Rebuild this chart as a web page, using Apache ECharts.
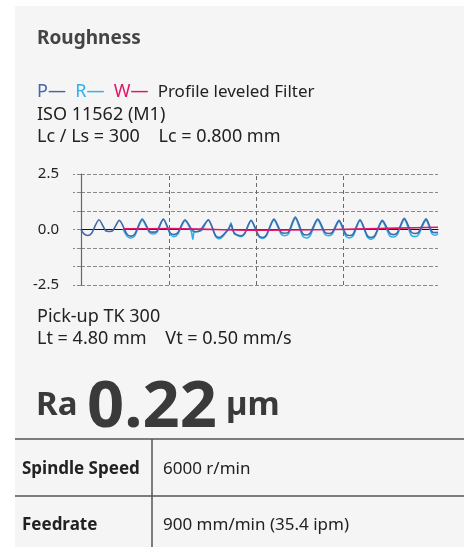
<!DOCTYPE html>
<html>
<head>
<meta charset="utf-8">
<script src="https://cdn.jsdelivr.net/npm/echarts@6/dist/echarts.min.js"></script>
<style>
  html, body { margin: 0; padding: 0; background: #ffffff; }
  #panel { position: absolute; left: 15px; top: 6px; width: 449px; height: 541px; background: #f5f5f5; }
  #chart { position: absolute; left: 0; top: 0; width: 464px; height: 547px; }
</style>
</head>
<body>
<div id="panel"></div>
<div id="chart"></div>
<script>
// ---- data (mm along trace, µm height) ----
const profileP = [
  [0.00, 0.00], [0.04, -0.20], [0.09, -0.27], [0.14, -0.18], [0.242, 0.44],
  [0.33, -0.05], [0.38, -0.09], [0.43, -0.04], [0.515, 0.41],
  [0.62, -0.22], [0.67, -0.30], [0.72, -0.22], [0.824, 0.47],
  [0.92, -0.08], [0.97, -0.12], [1.02, -0.08], [1.107, 0.47],
  [1.20, -0.15], [1.25, -0.23], [1.30, -0.15], [1.398, 0.44],
  [1.50, -0.05], [1.55, -0.10], [1.60, -0.05], [1.712, 0.42],
  [1.81, -0.28], [1.86, -0.36], [1.91, -0.25], [1.97, -0.05], [2.017, 0.22], [2.06, -0.18],
  [2.10, -0.25], [2.15, -0.28], [2.20, -0.18], [2.286, 0.42],
  [2.39, -0.28], [2.44, -0.36], [2.49, -0.26], [2.595, 0.47],
  [2.69, -0.12], [2.74, -0.17], [2.79, -0.12], [2.881, 0.56],
  [2.98, -0.18], [3.03, -0.25], [3.08, -0.17], [3.183, 0.47],
  [3.28, -0.12], [3.33, -0.18], [3.38, -0.12], [3.469, 0.41],
  [3.56, -0.20], [3.61, -0.27], [3.66, -0.20], [3.751, 0.44],
  [3.85, -0.28], [3.90, -0.36], [3.95, -0.27], [4.051, 0.41],
  [4.15, -0.16], [4.20, -0.23], [4.25, -0.16], [4.347, 0.50],
  [4.44, -0.12], [4.49, -0.18], [4.54, -0.12], [4.639, 0.48],
  [4.72, -0.10], [4.77, -0.14], [4.80, -0.12]
];
const profileR = [
  [0.565, 0.02], [0.62, -0.30], [0.67, -0.38], [0.72, -0.30], [0.824, 0.42],
  [0.92, -0.14], [0.97, -0.20], [1.02, -0.13], [1.107, 0.45],
  [1.20, -0.22], [1.25, -0.32], [1.30, -0.22], [1.398, 0.38],
  [1.48, -0.06], [1.505, -0.45], [1.52, -0.12], [1.58, -0.08], [1.62, -0.05], [1.712, 0.45],
  [1.81, -0.32], [1.86, -0.42], [1.91, -0.30], [1.96, -0.05], [1.99, 0.02], [2.017, 0.30],
  [2.04, -0.05], [2.10, -0.26], [2.15, -0.32], [2.20, -0.20], [2.286, 0.40],
  [2.39, -0.32], [2.44, -0.40], [2.49, -0.30], [2.595, 0.42],
  [2.69, -0.20], [2.74, -0.28], [2.79, -0.20], [2.881, 0.50],
  [2.98, -0.30], [3.03, -0.38], [3.08, -0.28], [3.183, 0.42],
  [3.28, -0.22], [3.33, -0.28], [3.38, -0.20], [3.469, 0.36],
  [3.56, -0.30], [3.61, -0.38], [3.66, -0.28], [3.751, 0.40],
  [3.85, -0.34], [3.90, -0.44], [3.95, -0.32], [4.051, 0.36],
  [4.15, -0.28], [4.20, -0.34], [4.25, -0.24], [4.347, 0.45],
  [4.44, -0.26], [4.49, -0.32], [4.54, -0.22], [4.639, 0.42],
  [4.72, -0.20], [4.77, -0.26], [4.80, -0.18]
];
const profileW = [
  [0.565, 0.03], [1.20, 0.04], [1.80, 0.00], [2.30, -0.03], [2.80, -0.02],
  [3.40, 0.00], [4.00, 0.04], [4.50, 0.08], [4.80, 0.10]
];
const yTickLabels = ['2.5', '0.0', '-2.5'];
const xMin = 0, xMax = 4.8;
const yMin = -2.5, yMax = 2.5;
const vGridX = [1.18, 2.35, 3.53];

const legendItems = [
  { key: 'P', color: '#4368a8' },
  { key: 'R', color: '#2cb3ea' },
  { key: 'W', color: '#e3136a' }
];
const headerTitle = 'Roughness';
const infoLines1 = ['ISO 11562 (M1)', 'Lc / Ls = 300    Lc = 0.800 mm'];
const infoLines2 = ['Pick-up TK 300', 'Lt = 4.80 mm    Vt = 0.50 mm/s'];
const raLabel = 'Ra', raValue = '0.22', raUnit = 'µm';
const tableRows = [
  ['Spindle Speed', '6000 r/min'],
  ['Feedrate', '900 mm/min (35.4 ipm)']
];

// ---- chart ----
const FONT = 'Noto Sans';
const TXT = '#222222';
const BIG = '#3a3a3a';
const chart = echarts.init(document.getElementById('chart'), null, { renderer: 'canvas' });

const legendRich = {};
let legendText = '';
legendItems.forEach((it, i) => {
  legendRich['c' + i] = { fill: it.color, fontSize: 18, fontFamily: FONT };
  legendText += '{c' + i + '|' + it.key + '— }' + (i < legendItems.length - 1 ? '{sp| }' : '');
});
legendRich.sp = { fontSize: 18, fontFamily: FONT };
legendRich.t = { fill: TXT, fontSize: 17, fontFamily: FONT };
legendText += '{t| Profile leveled Filter}';

function txt(x, y, text, font, fill) {
  return { type: 'text', x: x, y: y, style: { text: text, font: font, fill: fill, verticalAlign: 'middle' } };
}

const graphics = [
  txt(37, 39, headerTitle, 'bold 19px ' + FONT, '#444444'),
  { type: 'text', x: 37, y: 92, style: { text: legendText, rich: legendRich, verticalAlign: 'middle' } },
  txt(37, 115, infoLines1[0], '18px ' + FONT, TXT),
  txt(37, 137, infoLines1[1], '18px ' + FONT, TXT),
  txt(37, 317, infoLines2[0], '18px ' + FONT, TXT),
  txt(37, 339, infoLines2[1], '18px ' + FONT, TXT),
  txt(36, 406, raLabel, 'bold 33px ' + FONT, BIG),
  txt(87, 408, raValue, 'bold 65px ' + FONT, BIG),
  txt(226, 406, raUnit, 'bold 33px ' + FONT, BIG),
  { type: 'line', shape: { x1: 15, y1: 439, x2: 464, y2: 439 }, style: { stroke: '#555555', lineWidth: 1.5 } },
  { type: 'line', shape: { x1: 15, y1: 496, x2: 464, y2: 496 }, style: { stroke: '#555555', lineWidth: 1.5 } },
  { type: 'line', shape: { x1: 152, y1: 439, x2: 152, y2: 547 }, style: { stroke: '#555555', lineWidth: 1.5 } }
];
tableRows.forEach((row, i) => {
  const cy = 469 + i * 56;
  graphics.push(txt(22, cy, row[0], 'bold 17px ' + FONT, '#222222'));
  graphics.push(txt(163, cy, row[1], '17px ' + FONT, TXT));
});

const option = {
  backgroundColor: 'transparent',
  animation: false,
  grid: { left: 81, right: 26, top: 174, bottom: 262 },
  xAxis: {
    type: 'value', min: xMin, max: xMax,
    axisLine: { show: true, onZero: true, lineStyle: { color: '#111111', width: 1.2 } },
    axisTick: { show: false }, axisLabel: { show: false }, splitLine: { show: false }
  },
  yAxis: {
    type: 'value', min: yMin, max: yMax, interval: (yMax - yMin) / 6,
    axisLine: { show: true, lineStyle: { color: '#666666', width: 1.2 } },
    axisTick: { show: true, length: 8, lineStyle: { color: '#888888', type: [4, 2] } },
    axisLabel: {
      margin: 22, color: TXT, fontSize: 15, fontFamily: FONT,
      formatter: function (v) {
        if (Math.abs(v - yMax) < 1e-6) return yTickLabels[0];
        if (Math.abs(v) < 1e-6) return yTickLabels[1];
        if (Math.abs(v - yMin) < 1e-6) return yTickLabels[2];
        return '';
      }
    },
    splitLine: { show: true, lineStyle: { color: '#8a8a8a', type: [4, 2], width: 1 } }
  },
  series: [
    {
      name: 'R', type: 'line', data: profileR, showSymbol: false, smooth: 0.25,
      lineStyle: { color: legendItems[1].color, width: 1.6 }, z: 2
    },
    {
      name: 'P', type: 'line', data: profileP, showSymbol: false, smooth: 0.25,
      lineStyle: { color: legendItems[0].color, width: 1.6 }, z: 3,
      markLine: {
        silent: true, symbol: 'none', label: { show: false },
        lineStyle: { color: '#6a6a6a', type: [4, 3], width: 1 },
        data: vGridX.map(x => ({ xAxis: x }))
      }
    },
    {
      name: 'W', type: 'line', data: profileW, showSymbol: false, smooth: 0.3,
      lineStyle: { color: legendItems[2].color, width: 1.6 }, z: 4
    }
  ],
  graphic: graphics
};
chart.setOption(option);
</script>
</body>
</html>
